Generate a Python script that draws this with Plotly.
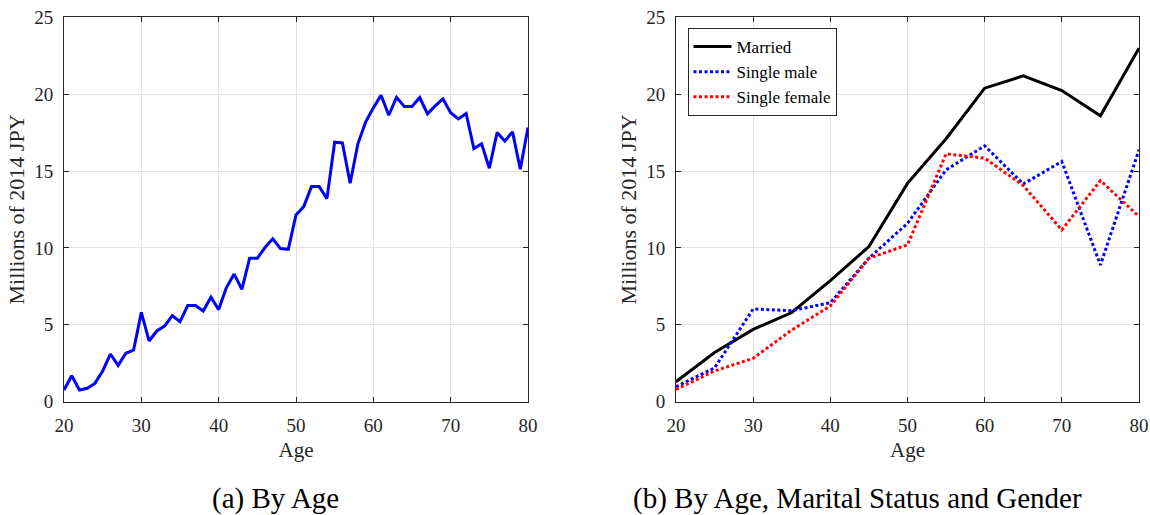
import plotly.graph_objects as go

# ---------------- data ----------------
ages_all = list(range(20, 81))
wealth_by_age = [0.76, 1.69, 0.76, 0.87, 1.19, 2.0, 3.1, 2.36, 3.15, 3.36,
                 5.81, 3.95, 4.6, 4.92, 5.6, 5.2, 6.25, 6.25, 5.9, 6.79,
                 5.99, 7.42, 8.3, 7.31, 9.33, 9.33, 10.04, 10.6, 9.96, 9.91,
                 12.15, 12.69, 13.99, 13.99, 13.21, 16.88, 16.83, 14.21, 16.77, 18.18,
                 19.11, 19.93, 18.63, 19.8, 19.2, 19.2, 19.78, 18.72, 19.24, 19.7,
                 18.79, 18.39, 18.74, 16.46, 16.77, 15.18, 17.5, 16.96, 17.55, 15.12,
                 17.83]

ages_5 = [20, 25, 30, 35, 40, 45, 50, 55, 60, 65, 70, 75, 80]
married = [1.3, 3.2, 4.7, 5.8, 7.87, 10.09, 14.2, 17.1, 20.39, 21.19, 20.24, 18.59, 22.99]
single_male = [0.98, 2.2, 6.03, 5.92, 6.44, 9.33, 11.6, 15.08, 16.64, 14.16, 15.62, 8.89, 16.38]
single_female = [0.8, 2.0, 2.82, 4.66, 6.23, 9.33, 10.2, 16.12, 15.84, 14.06, 11.17, 14.38, 12.04]

x_ticks = [20, 30, 40, 50, 60, 70, 80]
y_ticks = [0, 5, 10, 15, 20, 25]
y_title = "Millions of 2014 JPY"
x_title = "Age"
caption_a = "(a) By Age"
caption_b = "(b) By Age, Marital Status and Gender"

# ---------------- figure ----------------
W, H = 1150, 515
FONT = "Liberation Serif"
AX = "#262626"
GRID = "#e2e2e2"

fig = go.Figure()
fig.add_trace(go.Scatter(x=ages_all, y=wealth_by_age, mode="lines",
                         line=dict(color="#0000ff", width=3),
                         showlegend=False, xaxis="x", yaxis="y"))
fig.add_trace(go.Scatter(x=ages_5, y=married, mode="lines", name="Married",
                         line=dict(color="#000000", width=3),
                         xaxis="x2", yaxis="y2"))
fig.add_trace(go.Scatter(x=ages_5, y=single_male, mode="lines", name="Single male",
                         line=dict(color="#0000ff", width=3, dash="3px,2.5px"),
                         xaxis="x2", yaxis="y2"))
fig.add_trace(go.Scatter(x=ages_5, y=single_female, mode="lines", name="Single female",
                         line=dict(color="#ff0000", width=3, dash="3px,2.5px"),
                         xaxis="x2", yaxis="y2"))

ydom = [1 - 401.7 / H, 1 - 17.3 / H]


def xaxis(dom, anchor):
    return dict(domain=dom, anchor=anchor, range=[20, 80], tickvals=x_ticks,
                showgrid=True, gridcolor=GRID, gridwidth=1, zeroline=False,
                showline=True, linecolor=AX, linewidth=1, mirror="ticks",
                ticks="inside", ticklen=5, tickcolor=AX, tickwidth=1,
                tickfont=dict(family=FONT, size=19, color=AX),
                ticklabelstandoff=6,
                title=dict(text=x_title, font=dict(family=FONT, size=21, color=AX), standoff=7),
                automargin=False)


def yaxis(anchor):
    return dict(domain=ydom, anchor=anchor, range=[0, 25], tickvals=y_ticks,
                showgrid=True, gridcolor=GRID, gridwidth=1, zeroline=False,
                showline=True, linecolor=AX, linewidth=1, mirror="ticks",
                ticks="inside", ticklen=5, tickcolor=AX, tickwidth=1,
                tickfont=dict(family=FONT, size=19, color=AX),
                ticklabelstandoff=6,
                title=dict(text=y_title, font=dict(family=FONT, size=22, color=AX), standoff=3),
                automargin=False)


fig.update_layout(
    width=W, height=H, autosize=False,
    margin=dict(l=0, r=0, t=0, b=0),
    paper_bgcolor="white", plot_bgcolor="white",
    font=dict(family=FONT, color=AX),
    xaxis=xaxis([64 / W, 528 / W], "y"),
    yaxis=yaxis("x"),
    xaxis2=xaxis([676 / W, 1139 / W], "y2"),
    yaxis2=yaxis("x2"),
    legend=dict(x=687.5 / W, y=1 - 28 / H, xanchor="left", yanchor="top",
                bgcolor="white", bordercolor=AX, borderwidth=1,
                font=dict(family=FONT, size=17, color="#000000"),
                tracegroupgap=0, itemwidth=38),
    annotations=[
        dict(text=caption_a, x=275 / W, y=1 - 498 / H, xref="paper", yref="paper",
             xanchor="center", yanchor="middle", showarrow=False,
             font=dict(family=FONT, size=29, color="#000000")),
        dict(text=caption_b, x=857 / W, y=1 - 498 / H, xref="paper", yref="paper",
             xanchor="center", yanchor="middle", showarrow=False,
             font=dict(family=FONT, size=29, color="#000000")),
    ],
)

fig.write_html("out.html")
